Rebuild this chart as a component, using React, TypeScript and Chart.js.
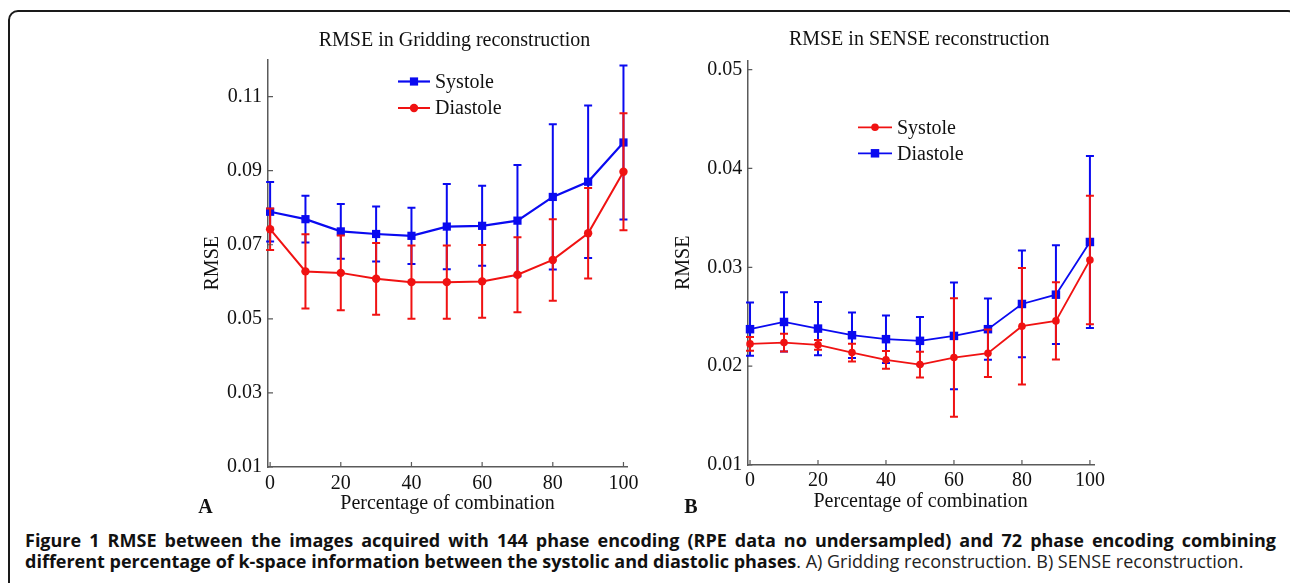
import React, { useEffect, useRef } from "react";
import { Chart, registerables } from "chart.js";

Chart.register(...registerables);

// ---------- data ----------
const percentages = [0, 10, 20, 30, 40, 50, 60, 70, 80, 90, 100];
const xTickValues = [0, 20, 40, 60, 80, 100];
const gridYTicks = [0.01, 0.03, 0.05, 0.07, 0.09, 0.11];
const senseYTicks = [0.01, 0.02, 0.03, 0.04, 0.05];

// Panel A: Gridding reconstruction
const gridSystole = [0.0789, 0.0769, 0.0736, 0.0729, 0.0724, 0.0749, 0.0751, 0.0765, 0.0829, 0.087, 0.0976];
const gridSystoleErr = [0.008, 0.0063, 0.0074, 0.0074, 0.0076, 0.0115, 0.0108, 0.015, 0.0196, 0.0206, 0.0208];
const gridDiastole = [0.0742, 0.0628, 0.0624, 0.0608, 0.0599, 0.0599, 0.0601, 0.0619, 0.0659, 0.0731, 0.0897];
const gridDiastoleErr = [0.0056, 0.01, 0.0101, 0.0097, 0.0099, 0.0099, 0.0098, 0.0101, 0.011, 0.0122, 0.0158];

// Panel B: SENSE reconstruction
const senseSystole = [0.02225, 0.02238, 0.02215, 0.02137, 0.02064, 0.02016, 0.02087, 0.02131, 0.02404, 0.02458, 0.03074];
const senseSystoleErr = [0.0007, 0.0009, 0.0005, 0.0009, 0.0009, 0.0013, 0.006, 0.0024, 0.0059, 0.0039, 0.0065];
const senseDiastole = [0.02374, 0.02447, 0.0238, 0.02313, 0.02273, 0.02256, 0.02306, 0.02374, 0.02629, 0.02723, 0.03256];
const senseDiastoleErr = [0.0027, 0.003, 0.0027, 0.0023, 0.0024, 0.0024, 0.0054, 0.0031, 0.0054, 0.005, 0.0087];

// ---------- styles ----------
const BLUE = "#0a0af0";
const RED = "#f01212";
const AXIS = "#5a5a5a";
const SERIF = "'Liberation Serif', 'Times New Roman', serif";

const toPoints = (ys: number[]) => percentages.map((x, i) => ({ x, y: ys[i] }));

// error bars drawn beneath each dataset's line
const errorBarPlugin = {
  id: "errorBars",
  beforeDatasetDraw(chart: any, args: any) {
    const ds = chart.data.datasets[args.index];
    const errs: number[] | undefined = ds.errors;
    if (!errs) return;
    const { ctx } = chart;
    const xs = chart.scales.x;
    const ys = chart.scales.y;
    const cap = ds.capHalf ?? 4;
    ctx.save();
    ctx.strokeStyle = ds.borderColor;
    ctx.lineWidth = ds.errorWidth ?? 2;
    ds.data.forEach((p: any, i: number) => {
      const x = xs.getPixelForValue(p.x);
      const yt = ys.getPixelForValue(p.y + errs[i]);
      const yb = ys.getPixelForValue(p.y - errs[i]);
      ctx.beginPath();
      ctx.moveTo(x, yt);
      ctx.lineTo(x, yb);
      ctx.moveTo(x - cap, yt);
      ctx.lineTo(x + cap, yt);
      ctx.moveTo(x - cap, yb);
      ctx.lineTo(x + cap, yb);
      ctx.stroke();
    });
    ctx.restore();
  },
};

// inward ticks, panel title, panel letter, MATLAB-like legend
const decorPlugin = {
  id: "decor",
  afterDraw(chart: any, _args: any, opts: any) {
    const { ctx, chartArea } = chart;
    const xs = chart.scales.x;
    const ys = chart.scales.y;
    ctx.save();
    // inward ticks
    ctx.strokeStyle = AXIS;
    ctx.lineWidth = 1.2;
    ctx.beginPath();
    xs.ticks.forEach((t: any) => {
      const x = xs.getPixelForValue(t.value);
      ctx.moveTo(x, chartArea.bottom);
      ctx.lineTo(x, chartArea.bottom - 5);
    });
    ys.ticks.forEach((t: any) => {
      const y = ys.getPixelForValue(t.value);
      ctx.moveTo(chartArea.left, y);
      ctx.lineTo(chartArea.left + 5, y);
    });
    ctx.stroke();

    // title
    ctx.fillStyle = "#111";
    ctx.textAlign = "center";
    ctx.textBaseline = "middle";
    ctx.font = `20px ${SERIF}`;
    ctx.fillText(opts.title, (chartArea.left + chartArea.right) / 2 + opts.titleDx, opts.titleY);

    // panel letter
    ctx.font = `bold 20px ${SERIF}`;
    ctx.fillText(opts.letter, opts.letterX, opts.letterY);

    // legend
    ctx.font = `20px ${SERIF}`;
    ctx.textAlign = "left";
    const lx = chartArea.left + opts.legendDx;
    opts.legendOrder.forEach((dsIndex: number, row: number) => {
      const ds = chart.data.datasets[dsIndex];
      const y = chartArea.top + opts.legendDy + row * opts.legendRow;
      ctx.strokeStyle = ds.borderColor;
      ctx.lineWidth = ds.borderWidth;
      ctx.beginPath();
      ctx.moveTo(lx, y);
      ctx.lineTo(lx + opts.sampleLen, y);
      ctx.stroke();
      const mx = lx + opts.sampleLen / 2;
      ctx.fillStyle = ds.borderColor;
      ctx.beginPath();
      if (ds.pointStyle === "rect") {
        const h = ds.pointRadius * Math.SQRT1_2;
        ctx.rect(mx - h, y - h, 2 * h, 2 * h);
      } else {
        ctx.arc(mx, y, ds.pointRadius, 0, Math.PI * 2);
      }
      ctx.fill();
      ctx.fillStyle = "#111";
      ctx.fillText(ds.label, lx + opts.sampleLen + 5, y + 1);
    });
    ctx.restore();
  },
};

function makeDataset(label: string, ys: number[], errs: number[], color: string, style: string, radius: number, width: number, order: number) {
  return {
    label,
    data: toPoints(ys),
    errors: errs,
    borderColor: color,
    backgroundColor: color,
    borderWidth: width,
    errorWidth: 2,
    capHalf: 4,
    pointStyle: style,
    pointRadius: radius,
    pointBorderWidth: 0,
    pointBackgroundColor: color,
    tension: 0,
    clip: false,
    order,
  };
}

function makeConfig(p: any): any {
  return {
    type: "line",
    data: { datasets: p.datasets },
    plugins: [errorBarPlugin, decorPlugin],
    options: {
      responsive: false,
      animation: false,
      devicePixelRatio: 1,
      layout: { padding: { left: 0, right: p.padRight, top: p.padTop, bottom: 0 } },
      plugins: {
        legend: { display: false },
        tooltip: { enabled: false },
        decor: p.decor,
      },
      scales: {
        x: {
          type: "linear",
          min: p.xMin,
          max: p.xMax,
          afterBuildTicks: (axis: any) => {
            axis.ticks = xTickValues.map((v) => ({ value: v }));
          },
          afterFit: (axis: any) => {
            axis.height = p.xAxisHeight;
          },
          grid: { display: false, drawTicks: false },
          border: { display: true, color: AXIS, width: 1.5 },
          ticks: {
            color: "#111",
            font: { family: SERIF, size: 20 },
            padding: p.xTickPad,
            maxRotation: 0,
            autoSkip: false,
            callback: (v: any) => String(v),
          },
          title: {
            display: true,
            text: "Percentage of combination",
            color: "#111",
            font: { family: SERIF, size: 20 },
            padding: { top: 0, bottom: p.xTitlePad },
          },
        },
        y: {
          type: "linear",
          min: p.yMin,
          max: p.yMax,
          afterBuildTicks: (axis: any) => {
            axis.ticks = p.yTicks.map((v: number) => ({ value: v }));
          },
          afterFit: (axis: any) => {
            axis.width = p.yAxisWidth;
          },
          grid: { display: false, drawTicks: false },
          border: { display: true, color: AXIS, width: 1.5 },
          ticks: {
            color: "#111",
            font: { family: SERIF, size: 20 },
            padding: p.yTickPad,
            autoSkip: false,
            callback: (v: any) => Number(v).toFixed(2),
          },
          title: {
            display: true,
            text: "RMSE",
            color: "#111",
            font: { family: SERIF, size: 20 },
            padding: { top: p.yTitlePad, bottom: 0 },
          },
        },
      },
    },
  };
}

function ChartCanvas({ config, left, top, width, height }: any) {
  const ref = useRef<HTMLCanvasElement | null>(null);
  useEffect(() => {
    if (!ref.current) return;
    const chart = new Chart(ref.current, config);
    return () => chart.destroy();
  }, []);
  return (
    <canvas
      ref={ref}
      width={width}
      height={height}
      style={{ position: "absolute", left, top, width, height }}
    />
  );
}

const gridConfig = makeConfig({
  datasets: [
    makeDataset("Systole", gridSystole, gridSystoleErr, BLUE, "rect", 5.8, 2.2, 1),
    makeDataset("Diastole", gridDiastole, gridDiastoleErr, RED, "circle", 4.2, 2, 0),
  ],
  padRight: 23,
  padTop: 39.5,
  xMin: -0.6,
  xMax: 101,
  yMin: 0.01,
  yMax: 0.12,
  yTicks: gridYTicks,
  xAxisHeight: 53,
  yAxisWidth: 88,
  xTickPad: 4.5,
  xTitlePad: 4,
  yTickPad: 6,
  yTitlePad: 20.5,
  decor: {
    title: "RMSE in Gridding reconstruction",
    titleDx: 7,
    titleY: 21,
    letter: "A",
    letterX: 25.5,
    letterY: 488,
    legendOrder: [0, 1],
    legendDx: 130,
    legendDy: 22,
    legendRow: 26.5,
    sampleLen: 32,
  },
});

const senseConfig = makeConfig({
  datasets: [
    makeDataset("Systole", senseSystole, senseSystoleErr, RED, "circle", 3.8, 1.8, 0),
    makeDataset("Diastole", senseDiastole, senseDiastoleErr, BLUE, "rect", 6, 1.8, 1),
  ],
  padRight: 26,
  padTop: 40.7,
  xMin: -0.8,
  xMax: 101.2,
  yMin: 0.01,
  yMax: 0.0509,
  yTicks: senseYTicks,
  xAxisHeight: 55,
  yAxisWidth: 92.3,
  xTickPad: 3.5,
  xTitlePad: 6,
  yTickPad: 5,
  yTitlePad: 16.5,
  decor: {
    title: "RMSE in SENSE reconstruction",
    titleDx: -1.5,
    titleY: 19.5,
    letter: "B",
    letterX: 36,
    letterY: 487.5,
    legendOrder: [0, 1],
    legendDx: 110.7,
    legendDy: 66.6,
    legendRow: 26,
    sampleLen: 34,
  },
});

export default function App() {
  return (
    <div
      style={{
        position: "absolute",
        left: 0,
        top: 0,
        width: 1290,
        height: 583,
        overflow: "hidden",
        background: "#fff",
      }}
    >
      <div
        style={{
          position: "absolute",
          left: 8,
          top: 10,
          width: 1290,
          height: 640,
          border: "2px solid #1a1a1a",
          borderRadius: 10,
          boxSizing: "border-box",
        }}
      />
      <ChartCanvas config={gridConfig} left={180} top={20} width={470} height={500} />
      <ChartCanvas config={senseConfig} left={655} top={20} width={465} height={500} />
      <div
        style={{
          position: "absolute",
          left: 25,
          top: 530,
          width: 1251,
          fontFamily: "'Open Sans', 'Noto Sans', sans-serif",
          fontSize: 18,
          lineHeight: "21px",
          color: "#111",
        }}
      >
        <div style={{ whiteSpace: "nowrap", textAlign: "justify", textAlignLast: "justify", fontWeight: 700 }}>
          Figure 1 RMSE between the images acquired with 144 phase encoding (RPE data no undersampled) and 72 phase encoding combining
        </div>
        <div style={{ whiteSpace: "nowrap", color: "#222" }}>
          <span style={{ fontWeight: 700, color: "#111" }}>different percentage of k-space information between the systolic and diastolic phases</span>. A) Gridding reconstruction. B) SENSE reconstruction.
        </div>
      </div>
    </div>
  );
}
